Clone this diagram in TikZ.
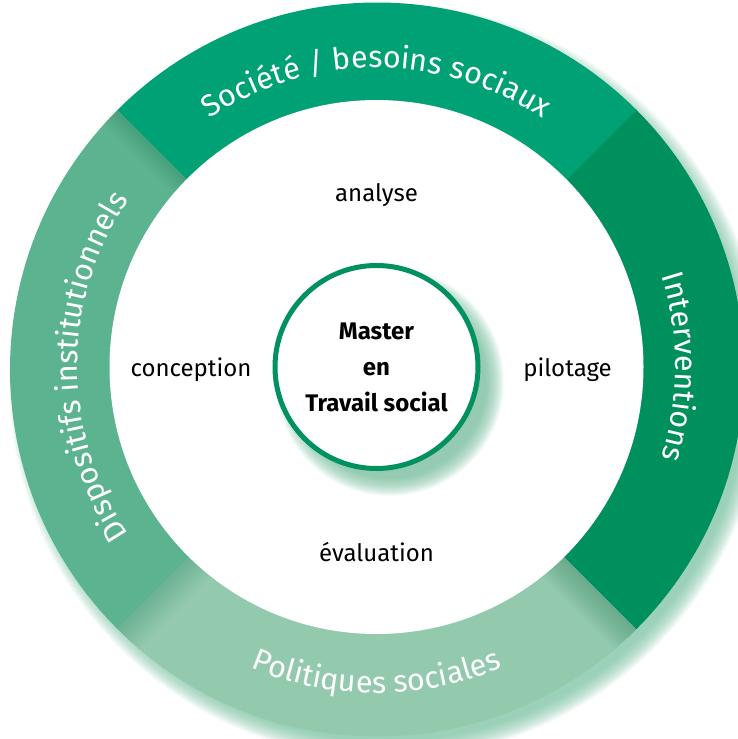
\documentclass[tikz,border=0pt]{standalone}
\usepackage{fontspec}
\setmainfont{Fira Sans}
\usetikzlibrary{decorations.text}
\definecolor{segtop}{HTML}{00A175}
\definecolor{segright}{HTML}{00905E}
\definecolor{segleft}{HTML}{5BB390}
\definecolor{segbottom}{HTML}{93CAAE}
\definecolor{ringstroke}{HTML}{00915F}
\definecolor{glowgreen}{HTML}{6DBB98}
\definecolor{segshadow}{HTML}{1F7A55}
\newcommand\ringfont{\fontsize{30.5}{30}\selectfont}
\begin{document}
\begin{tikzpicture}[x=1pt,y=1pt,
  ringtext/.style={decorate, decoration={text along path, text align=center, text color=white, text={|\ringfont|#1}}},
  innerlabel/.style={font=\fontsize{24}{28}\selectfont, text=black, inner sep=0pt},
  mastercircle/.style={circle, draw=ringstroke, line width=5pt, fill=white, minimum size=203pt, inner sep=0pt, align=center, font=\fontsize{24}{36}\selectfont\bfseries}]
\useasboundingbox (0,0) rectangle (737,-739);
\coordinate (C) at (376.5,-367);
\coordinate (O) at (377,-369.5);
% outer glow
\foreach \i in {0,...,18} \fill[glowgreen, opacity=0.06] (387,-381) circle[radius=378-\i];
% segments
\fill[segtop] (O) -- ++(45:367) arc[start angle=45, end angle=135, radius=367] -- cycle;
\fill[segleft] (O) -- ++(135:367) arc[start angle=135, end angle=225, radius=367] -- cycle;
\fill[segbottom] (O) -- ++(225:367) arc[start angle=225, end angle=315, radius=367] -- cycle;
\fill[segright] (O) -- ++(-45:367) arc[start angle=-45, end angle=45, radius=367] -- cycle;
% boundary shadows
\begin{scope}
  \clip (O) -- ++(135:367) arc[start angle=135, end angle=225, radius=367] -- cycle;
  \begin{scope}[shift={(377,-369.5)}, rotate=135]
    \foreach \i in {1,...,10} \fill[segshadow, opacity=0.03] (0,0) rectangle (380,2*\i);
  \end{scope}
\end{scope}
\begin{scope}
  \clip (O) -- ++(225:367) arc[start angle=225, end angle=315, radius=367] -- cycle;
  \begin{scope}[shift={(377,-369.5)}, rotate=225]
    \foreach \i in {1,...,12} \fill[segshadow, opacity=0.025] (0,0) rectangle (380,2.5*\i);
  \end{scope}
  \begin{scope}[shift={(377,-369.5)}, rotate=315]
    \foreach \i in {1,...,12} \fill[segshadow, opacity=0.032] (0,0) rectangle (380,-2.5*\i);
  \end{scope}
\end{scope}
% inner white disc
\fill[white] (C) circle[radius=267];
% center glow
\foreach \i in {0,...,18} \fill[glowgreen, opacity=0.06] (390,-382) circle[radius=114-\i];
\node[mastercircle] (master) at (C) {Master\\en\\Travail social};
% inner labels
\node[innerlabel] (analyse) at (376.5,-195) {analyse};
\node[innerlabel] (conception) at (191,-370) {conception};
\node[innerlabel] (pilotage) at (567.5,-370) {pilotage};
\node[innerlabel] (evaluation) at (376.5,-552) {évaluation};
% ring texts
\path[ringtext={Société / besoins sociaux}, shift={(376.5,-367)}] (150:299) arc[start angle=150, end angle=30, radius=299];
\path[ringtext={Interventions}, shift={(376.5,-367)}] (60:299) arc[start angle=60, end angle=-60, radius=299];
\path[ringtext={Dispositifs institutionnels}, shift={(376.5,-367)}] (240:299) arc[start angle=240, end angle=120, radius=299];
\path[ringtext={Politiques sociales}, shift={(376.5,-367)}] (215:326) arc[start angle=215, end angle=325, radius=326];
\end{tikzpicture}
\end{document}
